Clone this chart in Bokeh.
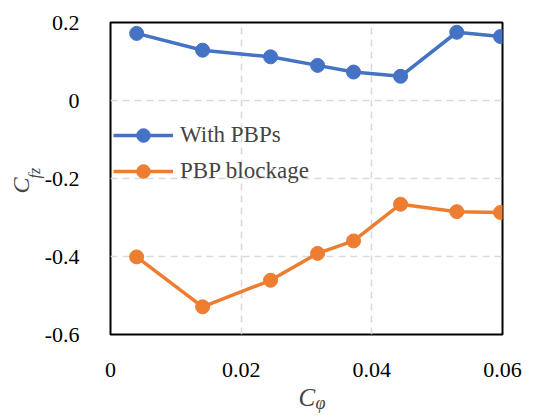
from bokeh.plotting import figure
from bokeh.models import Range1d, FixedTicker, Legend, LegendItem, Title
from bokeh.embed import file_html
from bokeh.resources import INLINE

x_vals = [0.0040, 0.0141, 0.0245, 0.0317, 0.0372, 0.0444, 0.0530, 0.0597]
with_pbps = [0.172, 0.129, 0.112, 0.090, 0.073, 0.062, 0.175, 0.164]
pbp_blockage = [-0.401, -0.529, -0.461, -0.392, -0.360, -0.266, -0.285, -0.287]
series_names = ["With PBPs", "PBP blockage"]
x_ticks = [0, 0.02, 0.04, 0.06]
y_ticks = [-0.6, -0.4, -0.2, 0, 0.2]

FONT = "Liberation Serif"
BLUE = "#4472C4"
ORANGE = "#ED7D31"

p = figure(width=536, height=417, output_backend="svg", toolbar_location=None,
           x_range=Range1d(0, 0.06), y_range=Range1d(-0.6, 0.2),
           min_border_left=110, min_border_right=34, min_border_top=22, min_border_bottom=83)

p.outline_line_color = "black"
p.outline_line_width = 2
p.background_fill_color = "white"
p.border_fill_color = "white"

p.xaxis.axis_line_color = None
p.yaxis.axis_line_color = None
p.xaxis.major_tick_line_color = None
p.yaxis.major_tick_line_color = None
p.xaxis.minor_tick_line_color = None
p.yaxis.minor_tick_line_color = None
p.xaxis.major_label_text_font = FONT
p.yaxis.major_label_text_font = FONT
p.xaxis.major_label_text_font_size = "22px"
p.yaxis.major_label_text_font_size = "22px"
p.xaxis.major_label_text_color = "black"
p.yaxis.major_label_text_color = "black"

p.xaxis.ticker = FixedTicker(ticks=x_ticks)
p.yaxis.ticker = FixedTicker(ticks=y_ticks)
p.xaxis.major_label_overrides = {0: "0", 0.02: "0.02", 0.04: "0.04", 0.06: "0.06"}
p.yaxis.major_label_overrides = {-0.6: "-0.6", -0.4: "-0.4", -0.2: "-0.2", 0: "0", 0.2: "0.2"}
p.xaxis.major_label_standoff = 22
p.yaxis.major_label_standoff = 25

for g in (p.xgrid[0], p.ygrid[0]):
    g.grid_line_color = "#d9d9d9"
    g.grid_line_width = 1.5
    g.grid_line_dash = "7 5"
p.xgrid[0].ticker = FixedTicker(ticks=[0.02, 0.04])
p.ygrid[0].ticker = FixedTicker(ticks=[-0.4, -0.2, 0])

l1 = p.line(x_vals, with_pbps, line_color=BLUE, line_width=3.5)
s1 = p.scatter(x_vals, with_pbps, size=14, fill_color=BLUE, line_color=BLUE)
l2 = p.line(x_vals, pbp_blockage, line_color=ORANGE, line_width=3.5)
s2 = p.scatter(x_vals, pbp_blockage, size=14, fill_color=ORANGE, line_color=ORANGE)

legend = Legend(items=[LegendItem(label=series_names[0], renderers=[l1, s1]),
                       LegendItem(label=series_names[1], renderers=[l2, s2])],
                location=(3, 146), padding=0, margin=0, spacing=2,
                glyph_width=60, glyph_height=34, label_height=34, label_standoff=7,
                label_text_font=FONT, label_text_font_size="23px",
                background_fill_alpha=0, border_line_color=None)
p.add_layout(legend, "center")

# axis titles (italic letter + subscript), as titles in the side panels
tx_c = Title(text="C", text_font=FONT, text_font_style="italic", text_font_size="25px",
             align="left", offset=188, standoff=6, vertical_align="middle")
tx_s = Title(text="φ", text_font=FONT, text_font_style="italic", text_font_size="18px",
             align="left", offset=205, standoff=-44, vertical_align="top")
p.add_layout(tx_c, "below")
p.add_layout(tx_s, "below")

ty_s = Title(text="fz", text_font=FONT, text_font_style="italic", text_font_size="16px",
             align="left", offset=156, standoff=-4, vertical_align="middle")
ty_c = Title(text="C", text_font=FONT, text_font_style="italic", text_font_size="24px",
             align="left", offset=141, standoff=-16, vertical_align="middle")
p.add_layout(ty_s, "left")
p.add_layout(ty_c, "left")

open("out.html", "w").write(file_html(p, INLINE))
